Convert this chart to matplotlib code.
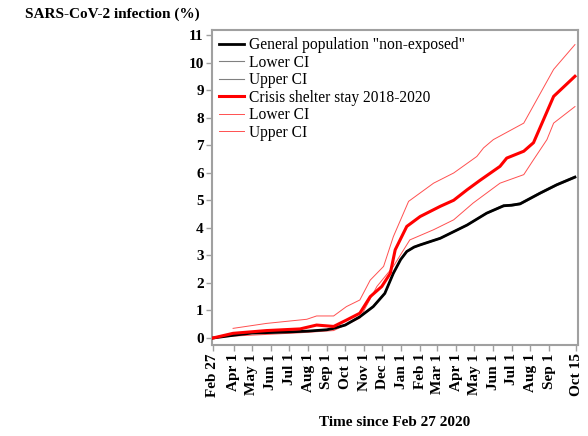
import matplotlib
matplotlib.use("Agg")
import matplotlib.pyplot as plt
import numpy as np

# days since Feb 27 2020
tick_days = [0, 34, 64, 95, 125, 156, 187, 217, 248, 278, 309, 340, 368, 399, 429, 460, 490, 521, 552, 596]
tick_labels = ["Feb 27", "Apr 1", "May 1", "Jun 1", "Jul 1", "Aug 1", "Sep 1", "Oct 1", "Nov 1", "Dec 1",
               "Jan 1", "Feb 1", "Mar 1", "Apr 1", "May 1", "Jun 1", "Jul 1", "Aug 1", "Sep 1", "Oct 15"]

gen_days = [0, 34, 64, 95, 125, 156, 187, 198, 217, 241, 263, 282, 296, 308, 318, 330, 340, 373, 417, 449, 477, 490, 504, 537, 564, 594]
gen_val = [0.0, 0.1, 0.18, 0.2, 0.22, 0.25, 0.3, 0.35, 0.47, 0.77, 1.14, 1.62, 2.35, 2.85, 3.14, 3.3, 3.38, 3.62, 4.1, 4.53, 4.8, 4.82, 4.87, 5.26, 5.56, 5.84]
gen_lo = [0.0, 0.1, 0.17, 0.19, 0.21, 0.24, 0.29, 0.34, 0.46, 0.76, 1.12, 1.6, 2.33, 2.83, 3.12, 3.28, 3.36, 3.6, 4.08, 4.51, 4.77, 4.79, 4.84, 5.23, 5.53, 5.81]
gen_hi = [0.0, 0.1, 0.19, 0.21, 0.23, 0.26, 0.31, 0.36, 0.48, 0.78, 1.16, 1.64, 2.37, 2.87, 3.16, 3.32, 3.4, 3.64, 4.12, 4.55, 4.83, 4.85, 4.9, 5.29, 5.59, 5.87]

cs_days = [0, 33, 88, 143, 170, 198, 219, 241, 258, 277, 291, 299, 318, 340, 373, 395, 417, 438, 471, 482, 510, 526, 559, 594]
cs_val = [0.0, 0.17, 0.27, 0.33, 0.47, 0.42, 0.65, 0.9, 1.5, 1.87, 2.35, 3.2, 4.05, 4.41, 4.78, 5.0, 5.38, 5.72, 6.23, 6.53, 6.78, 7.09, 8.77, 9.5]

cs_hi_days = [33, 88, 154, 170, 198, 219, 241, 258, 280, 296, 321, 362, 395, 433, 444, 460, 510, 559, 594]
cs_hi = [0.35, 0.53, 0.68, 0.8, 0.8, 1.14, 1.38, 2.1, 2.6, 3.68, 4.96, 5.62, 5.99, 6.59, 6.9, 7.2, 7.8, 9.75, 10.65]

cs_lo_days = [0, 33, 143, 198, 241, 269, 296, 323, 362, 395, 427, 471, 510, 526, 548, 559, 594]
cs_lo = [0.0, 0.07, 0.19, 0.27, 0.72, 1.87, 2.6, 3.56, 3.93, 4.29, 4.9, 5.62, 5.93, 6.47, 7.2, 7.8, 8.4]

plt.rcParams['font.family'] = ['Liberation Serif', 'DejaVu Serif']

fig = plt.figure(figsize=(5.88, 4.36), dpi=100)
ax = fig.add_axes([212/588, 1 - 345/436, (578-212)/588, (345-30)/436])

ax.plot(gen_days, gen_val, color='black', lw=2.0, label='General population "non-exposed"', zorder=5)
ax.plot(gen_days, gen_lo, color='#808080', lw=0.8, label='Lower CI', zorder=4)
ax.plot(gen_days, gen_hi, color='#808080', lw=0.8, label='Upper CI', zorder=4)
ax.plot(cs_days, cs_val, color='#ff0000', lw=2.2, label='Crisis shelter stay 2018-2020', zorder=6)
ax.plot(cs_lo_days, cs_lo, color='#ff5050', lw=0.7, label='Lower CI', zorder=3)
ax.plot(cs_hi_days, cs_hi, color='#ff5050', lw=0.7, label='Upper CI', zorder=3)

ax.set_xlim(-1.6, 599)
ax.set_ylim(-0.254, 11.18)
ax.set_xticks(tick_days)
ax.set_xticklabels(tick_labels, rotation=90, fontsize=11, fontweight='bold')
ax.set_yticks(range(0, 12))
ax.set_yticklabels([str(i) for i in range(0, 12)], fontsize=11, fontweight='bold')
ax.tick_params(axis='both', direction='out', length=4, color='#a0a0a0', width=1, pad=2)

for s in ax.spines.values():
    s.set_color('#a0a0a0')
    s.set_linewidth(1.5)

leg = ax.legend(loc='upper left', frameon=False, fontsize=11.2, handlelength=1.6,
                borderaxespad=0.2, labelspacing=0.1, handletextpad=0.35, borderpad=0.25)

fig.text(25/588, 1 - 14/436, 'SARS-CoV-2 infection (%)', fontsize=11, fontweight='bold', va='center', ha='left')
fig.text(395/588, 1 - 422/436, 'Time since Feb 27 2020', fontsize=11, fontweight='bold', va='center', ha='center')

fig.savefig('out.png', dpi=100)
